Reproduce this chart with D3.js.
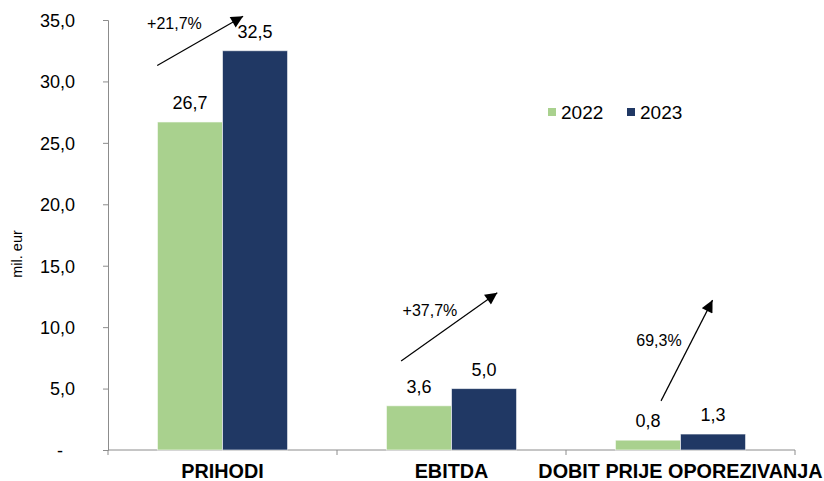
<!DOCTYPE html>
<html>
<head>
<meta charset="utf-8">
<script src="https://cdn.jsdelivr.net/npm/d3@7"></script>
<style>
  body { margin: 0; background: #fff; }
  svg { display: block; font-family: "Liberation Sans", Arial, sans-serif; }
</style>
</head>
<body>
<svg id="chart" width="824" height="481"></svg>
<script>
var categories = ['PRIHODI', 'EBITDA', 'DOBIT PRIJE OPOREZIVANJA'];
var years = ['2022', '2023'];
var values2022 = [26.7, 3.6, 0.8];
var values2023 = [32.5, 5.0, 1.3];
var growthLabels = ['+21,7%', '+37,7%', '69,3%'];
var yTicks = [0, 5, 10, 15, 20, 25, 30, 35];

// arrow annotations: x as fraction of the category band, y in data units
var arrows = [
    {from: [0.215, 31.3], to: [0.59, 35.3], text: [0.29, 34.3]},
    {from: [0.28, 7.25], to: [0.70, 12.8], text: [0.406, 10.9]},
    {from: [0.415, 4.0], to: [0.64, 12.2], text: [0.406, 8.5]}
];

var colors = {'2022': '#a9d18e', '2023': '#203864'};
var axisColor = '#8c8c8c';

var svg = d3.select('#chart');

var x0 = d3.scaleBand().domain(categories).range([108, 795]).padding(0);
var x1 = d3.scaleBand().domain(years).range([0, x0.bandwidth()])
    .paddingInner(0).paddingOuter(0.76);
var y = d3.scaleLinear().domain([0, 35]).range([450, 20]);

var fmt = function(v) {
    return v === 0 ? '-' : d3.format('.1f')(v).replace('.', ',');
};

/* y axis */
var yAxis = svg.append('g').attr('transform', 'translate(108,0)')
    .call(d3.axisLeft(y).tickValues(yTicks).tickSize(5).tickPadding(28).tickFormat(fmt));
yAxis.select('.domain').attr('stroke', axisColor);
yAxis.selectAll('.tick line').attr('stroke', axisColor);
yAxis.selectAll('.tick text')
    .attr('fill', '#000')
    .style('font-size', '18px')
    .attr('dy', '0.35em')
    .attr('dx', function(d) { return d === 0 ? -12 : 0; });

/* x axis: line + boundary ticks */
var xAxis = svg.append('g');
xAxis.append('line')
    .attr('x1', x0.range()[0]).attr('x2', x0.range()[1])
    .attr('y1', y(0)).attr('y2', y(0))
    .attr('stroke', axisColor);
var bounds = categories.map(function(c) { return x0(c); }).concat([x0.range()[1]]);
xAxis.selectAll('line.tick').data(bounds).enter().append('line')
    .attr('class', 'tick')
    .attr('x1', function(d) { return d; }).attr('x2', function(d) { return d; })
    .attr('y1', y(0)).attr('y2', y(0) + 5)
    .attr('stroke', axisColor);
xAxis.selectAll('text').data(categories).enter().append('text')
    .attr('x', function(d) { return x0(d) + x0.bandwidth() / 2; })
    .attr('y', 478)
    .attr('text-anchor', 'middle')
    .style('font-size', '19.8px')
    .style('font-weight', 'bold')
    .text(function(d) { return d; });

/* y axis title */
svg.append('text')
    .attr('transform', 'translate(22,254) rotate(-90)')
    .attr('text-anchor', 'middle')
    .style('font-size', '14.5px')
    .text('mil. eur');

/* bars */
var rows = categories.map(function(c, i) {
    return {cat: c, vals: [{year: '2022', v: values2022[i]}, {year: '2023', v: values2023[i]}]};
});
var groups = svg.selectAll('g.group').data(rows).enter().append('g')
    .attr('class', 'group')
    .attr('transform', function(d) { return 'translate(' + x0(d.cat) + ',0)'; });
groups.selectAll('rect').data(function(d) { return d.vals; }).enter().append('rect')
    .attr('x', function(d) { return x1(d.year); })
    .attr('width', x1.bandwidth())
    .attr('y', function(d) { return y(d.v); })
    .attr('height', function(d) { return y(0) - y(d.v); })
    .attr('fill', function(d) { return colors[d.year]; })
    .attr('stroke', 'rgba(255,255,255,0.6)')
    .attr('stroke-width', 1);
groups.selectAll('text').data(function(d) { return d.vals; }).enter().append('text')
    .attr('x', function(d) { return x1(d.year) + x1.bandwidth() / 2; })
    .attr('y', function(d) { return y(d.v) - 13; })
    .attr('text-anchor', 'middle')
    .style('font-size', '18px')
    .text(function(d) { return fmt(d.v); });

/* growth arrows */
svg.append('defs').append('marker')
    .attr('id', 'head')
    .attr('viewBox', '0 0 10 10')
    .attr('refX', 10).attr('refY', 5)
    .attr('markerUnits', 'userSpaceOnUse')
    .attr('markerWidth', 14).attr('markerHeight', 12)
    .attr('orient', 'auto')
    .append('path').attr('d', 'M0,0L10,5L0,10Z').attr('fill', '#000');

arrows.forEach(function(a, i) {
    var left = x0(categories[i]), w = x0.bandwidth();
    svg.append('line')
        .attr('x1', left + a.from[0] * w).attr('y1', y(a.from[1]))
        .attr('x2', left + a.to[0] * w).attr('y2', y(a.to[1]))
        .attr('stroke', '#000').attr('stroke-width', 1.2)
        .attr('marker-end', 'url(#head)');
    svg.append('text')
        .attr('x', left + a.text[0] * w).attr('y', y(a.text[1]))
        .attr('text-anchor', 'middle')
        .style('font-size', '16px')
        .text(growthLabels[i]);
});

/* legend */
var legend = svg.append('g').attr('transform', 'translate(548,108)');
var items = legend.selectAll('g').data(years).enter().append('g')
    .attr('transform', function(d, i) { return 'translate(' + (i * 79) + ',0)'; });
items.append('rect').attr('width', 8).attr('height', 8)
    .attr('fill', function(d) { return colors[d]; });
items.append('text').attr('x', 13).attr('y', 11)
    .style('font-size', '19px')
    .text(function(d) { return d; });
</script>
</body>
</html>
